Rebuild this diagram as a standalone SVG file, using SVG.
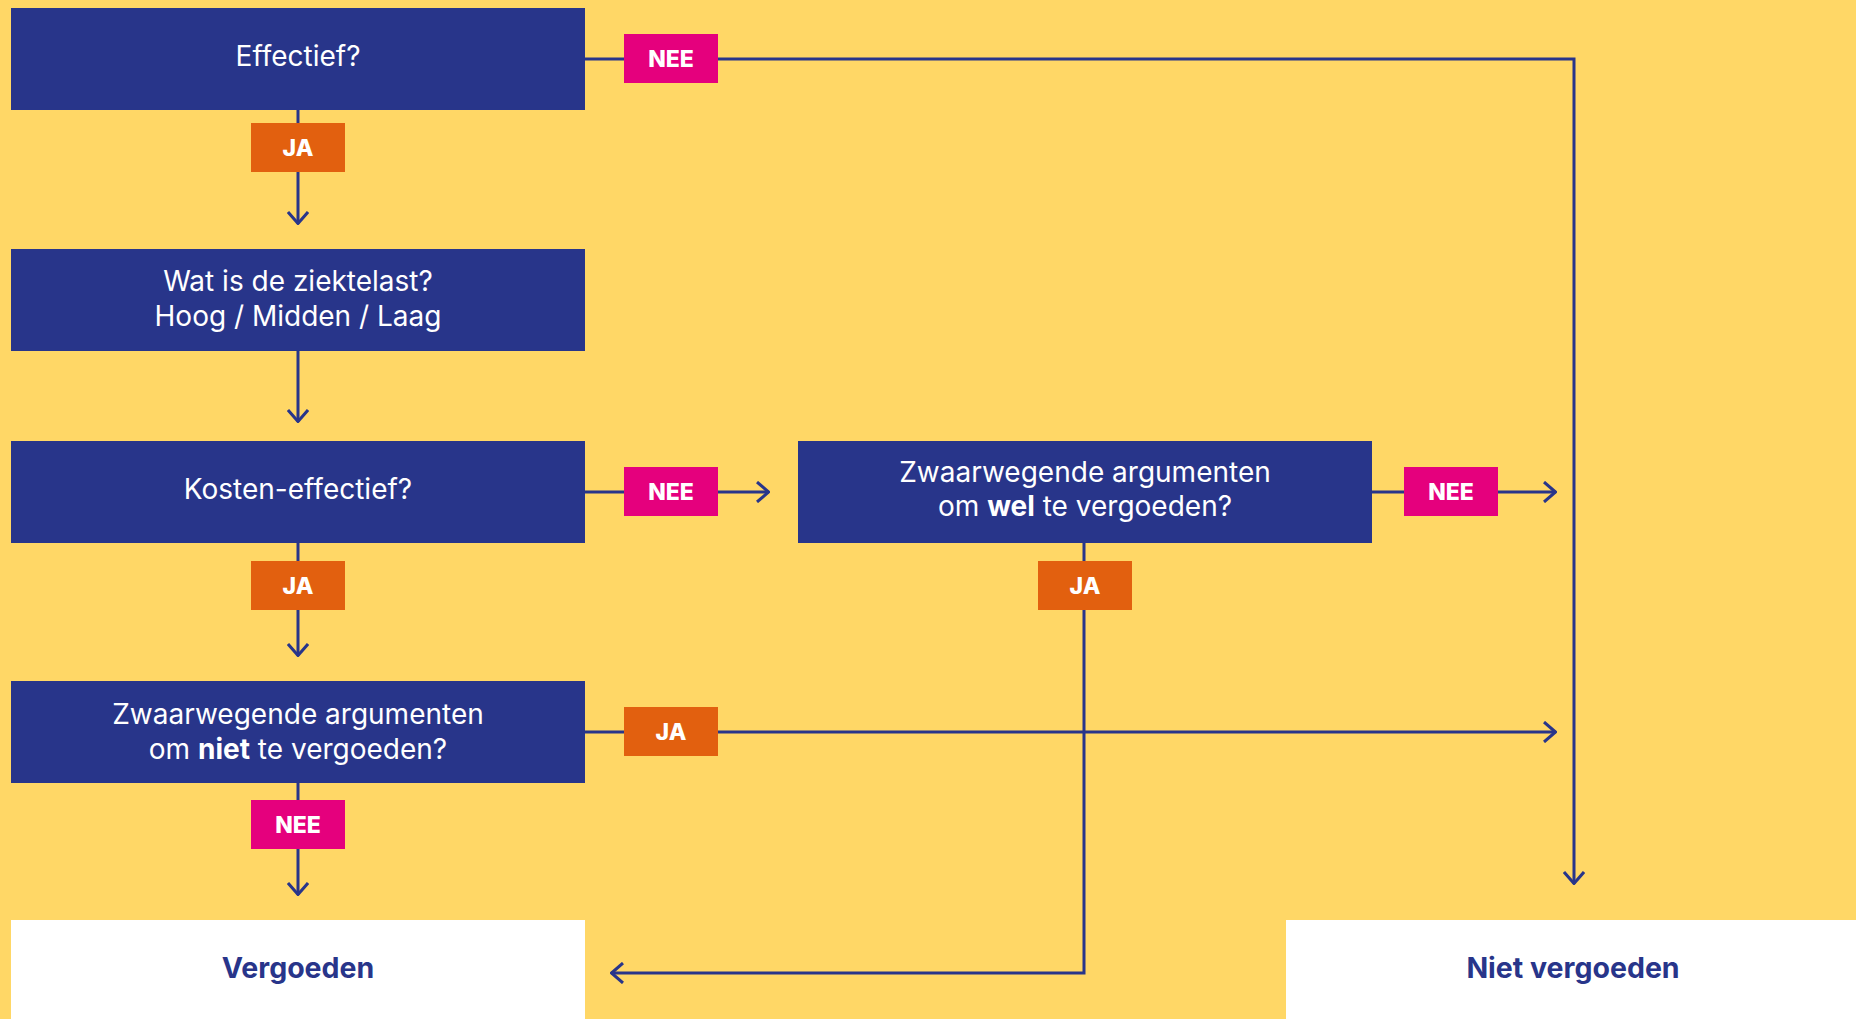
<svg xmlns="http://www.w3.org/2000/svg" width="1856" height="1019" viewBox="0 0 1856 1019">
<defs>
<style>
.q{fill:#28358A}
.end{fill:#FFFFFF}
.qt{font-family:Inter,"Noto Sans",sans-serif;font-size:28px;fill:#FFFFFF;text-anchor:middle}
.et{font-family:Inter,"Noto Sans",sans-serif;font-size:28.5px;font-weight:700;fill:#28358A;text-anchor:middle}
.nee{fill:#E5007D}
.ja{fill:#E2600F}
.lt{font-family:Inter,"Noto Sans",sans-serif;font-size:23px;font-weight:800;fill:#FFFFFF;text-anchor:middle}
.c{fill:none;stroke:#28358A;stroke-width:3}
</style>
<marker id="ah" viewBox="0 0 14 22" refX="13" refY="11" markerWidth="14" markerHeight="22" markerUnits="userSpaceOnUse" orient="auto">
<path d="M1,1 L12.5,11 L1,21" fill="none" stroke="#28358A" stroke-width="3"/>
</marker>
</defs>
<rect x="0" y="0" width="1856" height="1019" fill="#FFD766"/>
<g id="connectors">
<path class="c" d="M298,110 V224" marker-end="url(#ah)"/>
<path class="c" d="M298,351 V422" marker-end="url(#ah)"/>
<path class="c" d="M298,543 V656" marker-end="url(#ah)"/>
<path class="c" d="M298,783 V895" marker-end="url(#ah)"/>
<path class="c" d="M585,59 H1574 V884" marker-end="url(#ah)"/>
<path class="c" d="M585,492 H769" marker-end="url(#ah)"/>
<path class="c" d="M1372,492 H1556" marker-end="url(#ah)"/>
<path class="c" d="M1084,543 V973 H611" marker-end="url(#ah)"/>
<path class="c" d="M585,732 H1556" marker-end="url(#ah)"/>
</g>
<g id="n-effectief">
<rect class="q" x="11" y="8" width="574" height="102"/>
<text class="qt" x="298" y="66">Effectief?</text>
</g>
<g id="n-ziektelast">
<rect class="q" x="11" y="249" width="574" height="102"/>
<text class="qt" x="298" y="291">Wat is de ziektelast?</text>
<text class="qt" x="298" y="326">Hoog / Midden / Laag</text>
</g>
<g id="n-kosten">
<rect class="q" x="11" y="441" width="574" height="102"/>
<text class="qt" x="298" y="499">Kosten-effectief?</text>
</g>
<g id="n-wel">
<rect class="q" x="798" y="441" width="574" height="102"/>
<text class="qt" x="1085" y="482">Zwaarwegende argumenten</text>
<text class="qt" x="1085" y="516">om <tspan font-weight="700">wel</tspan> te vergoeden?</text>
</g>
<g id="n-niet">
<rect class="q" x="11" y="681" width="574" height="102"/>
<text class="qt" x="298" y="724">Zwaarwegende argumenten</text>
<text class="qt" x="298" y="759">om <tspan font-weight="700">niet</tspan> te vergoeden?</text>
</g>
<g id="n-vergoeden">
<rect class="end" x="11" y="920" width="574" height="99"/>
<text class="et" x="298" y="978">Vergoeden</text>
</g>
<g id="n-nietvergoeden">
<rect class="end" x="1286" y="920" width="570" height="99"/>
<text class="et" x="1573" y="978">Niet vergoeden</text>
</g>
<g id="l-ja1"><rect class="ja" x="251" y="123" width="94" height="49"/><text class="lt" x="298" y="156">JA</text></g>
<g id="l-nee1"><rect class="nee" x="624" y="34" width="94" height="49"/><text class="lt" x="671" y="67">NEE</text></g>
<g id="l-nee2"><rect class="nee" x="624" y="467" width="94" height="49"/><text class="lt" x="671" y="500">NEE</text></g>
<g id="l-ja2"><rect class="ja" x="251" y="561" width="94" height="49"/><text class="lt" x="298" y="594">JA</text></g>
<g id="l-nee3"><rect class="nee" x="1404" y="467" width="94" height="49"/><text class="lt" x="1451" y="500">NEE</text></g>
<g id="l-ja3"><rect class="ja" x="1038" y="561" width="94" height="49"/><text class="lt" x="1085" y="594">JA</text></g>
<g id="l-ja4"><rect class="ja" x="624" y="707" width="94" height="49"/><text class="lt" x="671" y="740">JA</text></g>
<g id="l-nee4"><rect class="nee" x="251" y="800" width="94" height="49"/><text class="lt" x="298" y="833">NEE</text></g>
</svg>
